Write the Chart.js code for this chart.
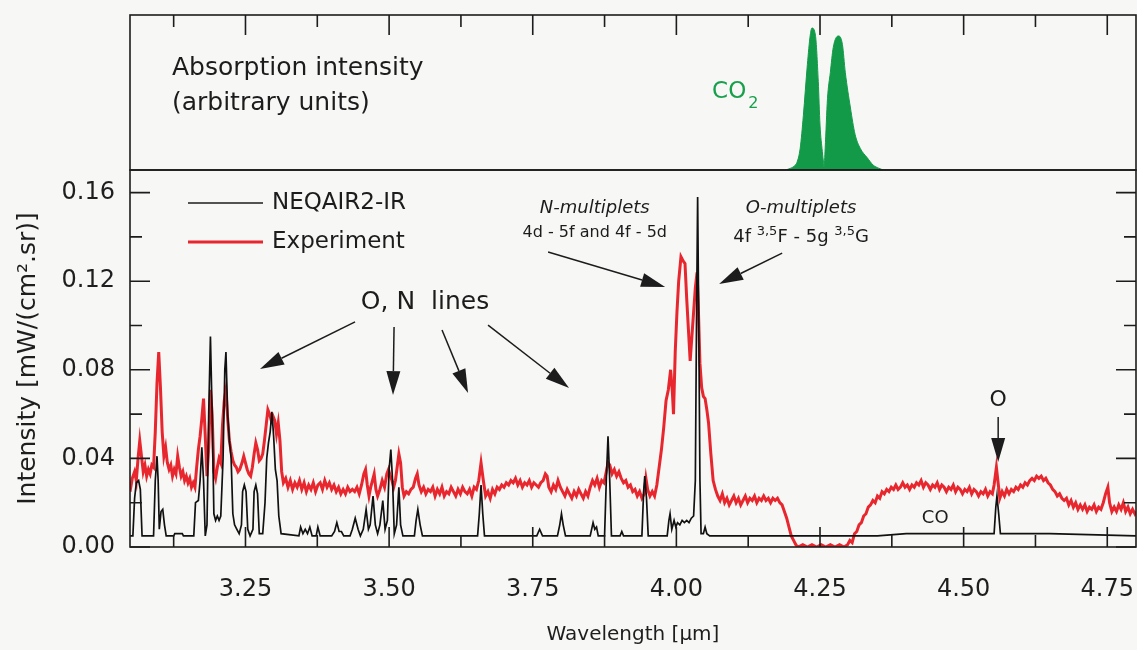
<!DOCTYPE html>
<html>
<head>
<meta charset="utf-8">
<script src="https://cdn.jsdelivr.net/npm/chart.js@4.4.0/dist/chart.umd.min.js"></script>
<style>
  html, body { margin: 0; padding: 0; background: #f7f7f6; }
  #wrap { position: relative; width: 1137px; height: 650px; overflow: hidden; }
  #topBox { position: absolute; left: 0; top: 0; width: 1137px; height: 172px; }
  #mainBox { position: absolute; left: 0; top: 169px; width: 1137px; height: 481px; }
</style>
</head>
<body>
<div id="wrap">
  <div id="topBox"><canvas id="topChart"></canvas></div>
  <div id="mainBox"><canvas id="mainChart"></canvas></div>
</div>
<script>
// axis ranges and ticks
const xMin = 3.049, xMax = 4.80;
const yMax = 0.1702;
const xMajor = [3.25, 3.5, 3.75, 4.0, 4.25, 4.5, 4.75];
const xMinor = [3.125, 3.375, 3.625, 3.875, 4.125, 4.375, 4.625];
const yMajor = [0, 0.04, 0.08, 0.12, 0.16];
const yMinor = [0.02, 0.06, 0.10, 0.14];

// CO2 absorption envelope (arbitrary units)
const co2Wl = [4.190, 4.198, 4.205, 4.210, 4.2155, 4.221, 4.228, 4.233, 4.236, 4.242, 4.247, 4.250, 4.254, 4.256, 4.257,
  4.259, 4.263, 4.268, 4.273, 4.282, 4.289, 4.294, 4.303, 4.311, 4.320, 4.332, 4.343, 4.352, 4.360];
const co2Abs = [0, 0.01, 0.025, 0.05, 0.14, 0.35, 0.68, 0.87, 0.916, 0.87, 0.57, 0.29, 0.12, 0.05, 0.02,
  0.14, 0.46, 0.63, 0.79, 0.865, 0.81, 0.63, 0.40, 0.23, 0.14, 0.08, 0.03, 0.012, 0];

// NEQAIR2-IR simulation [wavelength, intensity]
const neqair = [
  [3.049,0.005],[3.054,0.005],[3.057,0.022],[3.060,0.029],[3.064,0.030],[3.067,0.026],[3.070,0.005],
  [3.090,0.005],[3.093,0.030],[3.096,0.041],[3.098,0.030],[3.100,0.008],[3.103,0.016],[3.106,0.017],[3.109,0.010],[3.112,0.005],
  [3.125,0.005],[3.127,0.006],[3.140,0.006],[3.142,0.005],
  [3.160,0.005],[3.163,0.020],[3.168,0.021],[3.171,0.030],[3.174,0.045],[3.177,0.030],[3.180,0.005],[3.183,0.010],
  [3.186,0.060],[3.189,0.095],[3.192,0.060],[3.195,0.015],[3.198,0.012],[3.201,0.014],[3.204,0.012],[3.207,0.014],
  [3.211,0.040],[3.214,0.080],[3.216,0.088],[3.219,0.060],[3.222,0.048],[3.225,0.040],[3.228,0.015],[3.231,0.010],
  [3.235,0.008],[3.239,0.006],[3.243,0.010],[3.245,0.025],[3.248,0.028],[3.251,0.025],[3.254,0.008],[3.258,0.005],
  [3.263,0.008],[3.265,0.025],[3.268,0.028],[3.271,0.024],[3.274,0.006],[3.280,0.006],[3.284,0.020],[3.287,0.040],
  [3.290,0.047],[3.293,0.052],[3.296,0.061],[3.299,0.050],[3.302,0.035],[3.305,0.030],[3.308,0.014],[3.312,0.006],
  [3.343,0.005],[3.346,0.009],[3.350,0.006],[3.354,0.008],[3.358,0.006],[3.362,0.009],[3.366,0.005],
  [3.373,0.005],[3.376,0.009],[3.380,0.005],[3.400,0.005],[3.405,0.007],[3.409,0.011],[3.413,0.007],[3.417,0.007],[3.421,0.005],
  [3.432,0.005],[3.436,0.008],[3.441,0.013],[3.446,0.008],[3.450,0.005],[3.455,0.008],[3.460,0.017],[3.464,0.008],
  [3.467,0.010],[3.472,0.023],[3.476,0.010],[3.480,0.006],[3.484,0.010],[3.489,0.021],[3.493,0.008],[3.497,0.012],
  [3.500,0.035],[3.503,0.044],[3.506,0.030],[3.509,0.006],[3.513,0.010],[3.517,0.027],[3.520,0.010],[3.524,0.005],
  [3.544,0.005],[3.547,0.012],[3.550,0.017],[3.554,0.010],[3.558,0.005],
  [3.654,0.005],[3.657,0.015],[3.660,0.028],[3.663,0.015],[3.666,0.005],
  [3.757,0.005],[3.762,0.008],[3.767,0.005],[3.793,0.005],[3.797,0.010],[3.800,0.015],[3.803,0.010],[3.807,0.005],
  [3.850,0.005],[3.855,0.011],[3.858,0.008],[3.861,0.009],[3.864,0.005],
  [3.875,0.005],[3.878,0.030],[3.881,0.050],[3.884,0.030],[3.887,0.005],[3.902,0.005],[3.905,0.007],[3.908,0.005],
  [3.940,0.005],[3.943,0.025],[3.945,0.032],[3.948,0.022],[3.951,0.005],
  [3.984,0.005],[3.987,0.012],[3.989,0.015],[3.992,0.008],[3.996,0.012],[3.999,0.009],[4.002,0.011],[4.006,0.010],
  [4.010,0.012],[4.014,0.011],[4.018,0.012],[4.022,0.011],[4.026,0.013],[4.030,0.014],
  [4.033,0.030],[4.035,0.100],[4.037,0.158],[4.039,0.100],[4.041,0.030],[4.043,0.006],[4.047,0.006],[4.050,0.009],
  [4.053,0.006],[4.058,0.005],[4.350,0.005],[4.400,0.006],
  [4.553,0.006],[4.556,0.018],[4.558,0.023],[4.561,0.015],[4.564,0.006],[4.650,0.006],[4.800,0.005]
];

// measured spectrum [wavelength, intensity]
const experiment = [
  [3.049,0.025],[3.053,0.031],[3.057,0.034],[3.060,0.030],[3.063,0.040],[3.066,0.048],[3.069,0.041],[3.072,0.034],
  [3.075,0.037],[3.078,0.032],[3.081,0.035],[3.084,0.033],[3.087,0.037],[3.090,0.036],[3.093,0.052],[3.096,0.074],
  [3.099,0.088],[3.102,0.072],[3.105,0.052],[3.108,0.041],[3.111,0.045],[3.114,0.038],[3.117,0.035],[3.120,0.037],
  [3.123,0.032],[3.126,0.035],[3.129,0.033],[3.132,0.041],[3.135,0.036],[3.138,0.032],[3.141,0.034],[3.144,0.030],
  [3.147,0.032],[3.150,0.029],[3.153,0.031],[3.156,0.027],[3.159,0.029],[3.162,0.027],[3.165,0.036],[3.168,0.044],
  [3.171,0.050],[3.174,0.058],[3.177,0.067],[3.180,0.050],[3.183,0.032],[3.186,0.045],[3.189,0.071],[3.192,0.060],
  [3.195,0.034],[3.198,0.031],[3.201,0.036],[3.204,0.040],[3.207,0.038],[3.210,0.055],[3.213,0.066],[3.216,0.071],
  [3.219,0.058],[3.222,0.048],[3.225,0.043],[3.228,0.039],[3.231,0.037],[3.234,0.036],[3.237,0.034],[3.240,0.035],
  [3.244,0.038],[3.247,0.041],[3.250,0.038],[3.253,0.035],[3.256,0.033],[3.259,0.032],[3.262,0.036],[3.265,0.042],
  [3.268,0.047],[3.271,0.044],[3.274,0.039],[3.277,0.040],[3.280,0.042],[3.283,0.048],[3.286,0.055],[3.289,0.062],
  [3.292,0.060],[3.295,0.057],[3.298,0.059],[3.301,0.057],[3.304,0.051],[3.307,0.056],[3.310,0.048],[3.313,0.034],
  [3.316,0.029],[3.320,0.031],[3.324,0.027],[3.328,0.030],[3.332,0.026],[3.336,0.029],[3.340,0.027],[3.344,0.030],
  [3.348,0.026],[3.352,0.029],[3.356,0.025],[3.360,0.028],[3.364,0.026],[3.368,0.029],[3.372,0.025],[3.376,0.028],
  [3.380,0.029],[3.384,0.026],[3.388,0.030],[3.392,0.027],[3.396,0.029],[3.400,0.026],[3.404,0.028],[3.408,0.025],
  [3.412,0.027],[3.416,0.024],[3.420,0.026],[3.424,0.024],[3.428,0.027],[3.432,0.025],[3.436,0.026],[3.440,0.025],
  [3.444,0.027],[3.448,0.024],[3.452,0.028],[3.456,0.033],[3.459,0.035],[3.462,0.028],[3.465,0.023],[3.468,0.027],
  [3.471,0.030],[3.474,0.033],[3.477,0.026],[3.480,0.023],[3.484,0.026],[3.488,0.030],[3.492,0.027],[3.496,0.033],
  [3.499,0.035],[3.502,0.032],[3.505,0.030],[3.508,0.027],[3.511,0.030],[3.514,0.036],[3.517,0.042],[3.520,0.038],
  [3.523,0.027],[3.526,0.023],[3.530,0.025],[3.534,0.024],[3.538,0.026],[3.542,0.027],[3.546,0.031],[3.549,0.033],
  [3.552,0.028],[3.556,0.025],[3.560,0.027],[3.564,0.024],[3.568,0.026],[3.572,0.025],[3.576,0.027],[3.580,0.023],
  [3.584,0.026],[3.588,0.024],[3.592,0.027],[3.596,0.023],[3.600,0.025],[3.604,0.024],[3.608,0.027],[3.612,0.025],
  [3.616,0.023],[3.620,0.026],[3.624,0.024],[3.628,0.027],[3.632,0.025],[3.636,0.024],[3.640,0.026],[3.644,0.023],
  [3.648,0.027],[3.652,0.026],[3.656,0.030],[3.660,0.038],[3.664,0.030],[3.668,0.023],[3.672,0.025],[3.676,0.022],
  [3.680,0.026],[3.684,0.024],[3.688,0.027],[3.692,0.026],[3.696,0.028],[3.700,0.027],[3.704,0.029],[3.708,0.028],
  [3.712,0.030],[3.716,0.029],[3.720,0.031],[3.724,0.028],[3.728,0.030],[3.732,0.027],[3.736,0.029],[3.740,0.028],
  [3.744,0.030],[3.748,0.027],[3.752,0.029],[3.756,0.028],[3.760,0.027],[3.764,0.029],[3.768,0.030],[3.772,0.033],
  [3.775,0.032],[3.778,0.027],[3.782,0.025],[3.786,0.028],[3.790,0.026],[3.794,0.030],[3.798,0.027],[3.802,0.025],
  [3.806,0.023],[3.810,0.026],[3.814,0.024],[3.818,0.022],[3.822,0.025],[3.826,0.023],[3.830,0.026],[3.834,0.024],
  [3.838,0.022],[3.842,0.025],[3.846,0.023],[3.850,0.027],[3.854,0.030],[3.858,0.028],[3.862,0.031],[3.866,0.027],
  [3.870,0.030],[3.874,0.029],[3.878,0.034],[3.881,0.038],[3.884,0.037],[3.888,0.033],[3.892,0.035],[3.896,0.032],
  [3.900,0.034],[3.904,0.031],[3.908,0.029],[3.912,0.030],[3.916,0.027],[3.920,0.028],[3.924,0.025],[3.928,0.026],
  [3.932,0.023],[3.936,0.025],[3.940,0.022],[3.944,0.024],[3.947,0.031],[3.950,0.026],[3.954,0.023],[3.958,0.025],
  [3.962,0.023],[3.966,0.028],[3.970,0.036],[3.974,0.044],[3.978,0.054],[3.982,0.066],[3.986,0.071],[3.990,0.080],
  [3.993,0.070],[3.995,0.060],[3.998,0.088],[4.001,0.106],[4.004,0.120],[4.008,0.131],[4.012,0.129],[4.015,0.128],
  [4.018,0.112],[4.021,0.098],[4.024,0.084],[4.027,0.095],[4.030,0.106],[4.033,0.117],[4.036,0.124],[4.038,0.110],
  [4.041,0.083],[4.044,0.072],[4.047,0.068],[4.050,0.067],[4.053,0.062],[4.056,0.056],[4.060,0.042],[4.064,0.030],
  [4.068,0.026],[4.072,0.023],[4.076,0.021],[4.080,0.024],[4.084,0.020],[4.088,0.022],[4.092,0.019],[4.096,0.021],
  [4.100,0.023],[4.104,0.020],[4.108,0.022],[4.112,0.019],[4.116,0.021],[4.120,0.023],[4.124,0.020],[4.128,0.022],
  [4.132,0.021],[4.136,0.023],[4.140,0.020],[4.144,0.022],[4.148,0.021],[4.152,0.023],[4.156,0.021],[4.160,0.022],
  [4.164,0.020],[4.168,0.022],[4.172,0.021],[4.176,0.022],[4.180,0.020],[4.184,0.019],[4.188,0.016],[4.192,0.013],
  [4.196,0.009],[4.200,0.005],[4.204,0.003],[4.208,0.001],[4.212,0.000],[4.220,0.001],[4.228,0.000],[4.236,0.001],
  [4.244,0.000],[4.252,0.001],[4.260,0.000],[4.268,0.001],[4.276,0.000],[4.284,0.001],[4.292,0.000],[4.298,0.001],
  [4.302,0.003],[4.306,0.002],[4.310,0.006],[4.314,0.007],[4.318,0.010],[4.322,0.011],[4.326,0.014],[4.330,0.015],
  [4.334,0.018],[4.338,0.019],[4.342,0.021],[4.346,0.020],[4.350,0.023],[4.354,0.022],[4.358,0.025],[4.362,0.024],
  [4.366,0.026],[4.370,0.025],[4.374,0.027],[4.378,0.026],[4.382,0.028],[4.386,0.026],[4.390,0.027],[4.394,0.029],
  [4.398,0.027],[4.402,0.028],[4.406,0.026],[4.410,0.028],[4.414,0.027],[4.418,0.029],[4.422,0.028],[4.426,0.030],
  [4.430,0.027],[4.434,0.029],[4.438,0.028],[4.442,0.026],[4.446,0.028],[4.450,0.027],[4.454,0.029],[4.458,0.026],
  [4.462,0.028],[4.466,0.027],[4.470,0.025],[4.474,0.027],[4.478,0.026],[4.482,0.028],[4.486,0.025],[4.490,0.027],
  [4.494,0.026],[4.498,0.024],[4.502,0.026],[4.506,0.025],[4.510,0.027],[4.514,0.024],[4.518,0.026],[4.522,0.025],
  [4.526,0.023],[4.530,0.025],[4.534,0.024],[4.538,0.026],[4.542,0.023],[4.546,0.025],[4.550,0.024],[4.553,0.028],
  [4.557,0.036],[4.560,0.029],[4.563,0.022],[4.567,0.025],[4.571,0.023],[4.575,0.026],[4.579,0.024],[4.583,0.026],
  [4.587,0.025],[4.591,0.027],[4.595,0.026],[4.599,0.028],[4.603,0.027],[4.607,0.029],[4.611,0.028],[4.615,0.030],
  [4.619,0.031],[4.623,0.030],[4.627,0.032],[4.631,0.031],[4.635,0.032],[4.639,0.030],[4.643,0.031],[4.647,0.029],
  [4.651,0.028],[4.655,0.026],[4.659,0.025],[4.663,0.023],[4.667,0.024],[4.671,0.022],[4.675,0.021],[4.679,0.022],
  [4.683,0.019],[4.687,0.021],[4.691,0.018],[4.695,0.020],[4.699,0.017],[4.703,0.019],[4.707,0.017],[4.711,0.019],
  [4.715,0.016],[4.719,0.018],[4.723,0.017],[4.727,0.019],[4.731,0.016],[4.735,0.018],[4.739,0.017],[4.743,0.020],
  [4.747,0.024],[4.751,0.027],[4.754,0.020],[4.758,0.016],[4.762,0.018],[4.766,0.016],[4.770,0.019],[4.774,0.017],
  [4.778,0.020],[4.782,0.016],[4.786,0.018],[4.790,0.015],[4.794,0.017],[4.798,0.015],[4.800,0.016]
];

Chart.defaults.font.family = '"DejaVu Sans", sans-serif';
Chart.defaults.color = '#1e1e1e';

const INK = '#1c1c1c';
const FONT = '"DejaVu Sans", sans-serif';

function arrow(ctx, x1, y1, x2, y2) {
  const head = 24, half = 7;
  const ang = Math.atan2(y2 - y1, x2 - x1);
  const bx = x2 - head * Math.cos(ang), by = y2 - head * Math.sin(ang);
  ctx.beginPath();
  ctx.moveTo(x1, y1);
  ctx.lineTo(bx, by);
  ctx.stroke();
  ctx.beginPath();
  ctx.moveTo(x2, y2);
  ctx.lineTo(bx + half * Math.sin(ang), by - half * Math.cos(ang));
  ctx.lineTo(bx - half * Math.sin(ang), by + half * Math.cos(ang));
  ctx.closePath();
  ctx.fill();
}

// text made of pieces, some raised as superscripts, centred on cx
function richText(ctx, parts, cx, cy, size, style) {
  const big = (style || '') + ' ' + size + 'px ' + FONT;
  const small = (style || '') + ' ' + Math.round(size * 0.72) + 'px ' + FONT;
  let w = 0;
  parts.forEach(p => { ctx.font = p.sup ? small : big; w += ctx.measureText(p.t).width; });
  let x = cx - w / 2;
  ctx.textAlign = 'left';
  ctx.textBaseline = 'middle';
  parts.forEach(p => {
    ctx.font = p.sup ? small : big;
    ctx.fillText(p.t, x, p.sup ? cy - size * 0.3 : cy);
    x += ctx.measureText(p.t).width;
  });
}

// annotations in data units of the lower panel
const labelsMain = [
  {parts: [{t: 'O, N  lines'}], x: 3.5625, y: 0.1106, size: 25},
  {parts: [{t: 'N-multiplets'}], x: 3.858, y: 0.1531, size: 18, style: 'italic'},
  {parts: [{t: '4d - 5f and 4f - 5d'}], x: 3.858, y: 0.1418, size: 16},
  {parts: [{t: 'O-multiplets'}], x: 4.217, y: 0.1531, size: 18, style: 'italic'},
  {parts: [{t: '4f '}, {t: '3,5', sup: true}, {t: 'F - 5g '}, {t: '3,5', sup: true}, {t: 'G'}], x: 4.217, y: 0.1400, size: 18},
  {parts: [{t: 'O'}], x: 4.5601, y: 0.0664, size: 22},
  {parts: [{t: 'CO'}], x: 4.4505, y: 0.0131, size: 18}
];
const arrowsMain = [
  [3.4407, 0.1016, 3.2753, 0.0804],
  [3.5086, 0.0993, 3.5068, 0.0686],
  [3.5921, 0.0980, 3.6374, 0.0695],
  [3.6722, 0.1002, 3.8132, 0.0718],
  [3.7767, 0.1332, 3.9804, 0.1174],
  [4.1841, 0.1327, 4.0744, 0.1187],
  [4.5601, 0.0587, 4.5601, 0.0384]
];

const mainDecor = {
  id: 'mainDecor',
  afterDraw(chart) {
    const {ctx, chartArea: a, scales: {x, y}} = chart;
    ctx.save();
    ctx.strokeStyle = INK;
    ctx.fillStyle = INK;
    ctx.lineWidth = 1.6;
    ctx.strokeRect(a.left, a.top, a.right - a.left, a.bottom - a.top);
    ctx.beginPath();
    const tx = (vals, len) => vals.forEach(v => {
      const px = x.getPixelForValue(v);
      ctx.moveTo(px, a.bottom); ctx.lineTo(px, a.bottom - len);
    });
    const ty = (vals, len) => vals.forEach(v => {
      const py = y.getPixelForValue(v);
      ctx.moveTo(a.left, py); ctx.lineTo(a.left + len, py);
      ctx.moveTo(a.right, py); ctx.lineTo(a.right - len, py);
    });
    tx(xMajor, 20); tx(xMinor, 12);
    ty(yMajor, 20); ty(yMinor, 12);
    ctx.stroke();

    // legend
    ctx.lineWidth = 1.6;
    ctx.beginPath();
    ctx.moveTo(a.left + 58, a.top + 33); ctx.lineTo(a.left + 133, a.top + 33);
    ctx.stroke();
    ctx.strokeStyle = '#e8262e';
    ctx.lineWidth = 3;
    ctx.beginPath();
    ctx.moveTo(a.left + 58, a.top + 72); ctx.lineTo(a.left + 133, a.top + 72);
    ctx.stroke();
    ctx.font = '23px ' + FONT;
    ctx.textAlign = 'left';
    ctx.textBaseline = 'middle';
    ctx.fillText('NEQAIR2-IR', a.left + 142, a.top + 33);
    ctx.fillText('Experiment', a.left + 142, a.top + 72);

    // annotations
    labelsMain.forEach(l => richText(ctx, l.parts, x.getPixelForValue(l.x), y.getPixelForValue(l.y), l.size, l.style));
    ctx.strokeStyle = INK;
    ctx.lineWidth = 1.5;
    arrowsMain.forEach(r => arrow(ctx, x.getPixelForValue(r[0]), y.getPixelForValue(r[1]),
      x.getPixelForValue(r[2]), y.getPixelForValue(r[3])));
    ctx.restore();
  }
};

const topDecor = {
  id: 'topDecor',
  afterDraw(chart) {
    const {ctx, chartArea: a, scales: {x, y}} = chart;
    ctx.save();
    ctx.strokeStyle = INK;
    ctx.fillStyle = INK;
    ctx.lineWidth = 1.6;
    ctx.strokeRect(a.left, a.top, a.right - a.left, a.bottom - a.top);
    ctx.beginPath();
    const tx = (vals, len) => vals.forEach(v => {
      const px = x.getPixelForValue(v);
      ctx.moveTo(px, a.top); ctx.lineTo(px, a.top + len);
    });
    tx(xMajor, 20); tx(xMinor, 12);
    ctx.stroke();

    ctx.font = '25px ' + FONT;
    ctx.textAlign = 'left';
    ctx.textBaseline = 'middle';
    const lx = x.getPixelForValue(3.122);
    ctx.fillText('Absorption intensity', lx, y.getPixelForValue(0.658));
    ctx.fillText('(arbitrary units)', lx, y.getPixelForValue(0.432));

    ctx.fillStyle = '#17a04c';
    const cx = x.getPixelForValue(4.0622), cy = y.getPixelForValue(0.503);
    ctx.font = '23px ' + FONT;
    ctx.fillText('CO', cx, cy);
    const w = ctx.measureText('CO').width;
    ctx.font = '16px ' + FONT;
    ctx.fillText('2', cx + w + 2, cy + 12);
    ctx.restore();
  }
};

new Chart(document.getElementById('topChart'), {
  type: 'line',
  data: {
    datasets: [{
      label: 'CO2',
      data: co2Wl.map((w, i) => ({x: w, y: co2Abs[i]})),
      borderColor: '#139a48',
      backgroundColor: '#139a48',
      borderWidth: 1,
      pointRadius: 0,
      fill: 'origin',
      cubicInterpolationMode: 'monotone'
    }]
  },
  options: {
    responsive: true,
    maintainAspectRatio: false,
    animation: false,
    layout: {padding: {left: 130, right: 1, top: 15, bottom: 2}},
    plugins: {legend: {display: false}, tooltip: {enabled: false}},
    scales: {
      x: {type: 'linear', min: xMin, max: xMax, display: false},
      y: {min: 0, max: 1, display: false}
    }
  },
  plugins: [topDecor]
});

new Chart(document.getElementById('mainChart'), {
  type: 'line',
  data: {
    datasets: [
      {
        label: 'NEQAIR2-IR',
        data: neqair.map(p => ({x: p[0], y: p[1]})),
        borderColor: '#111111',
        borderWidth: 1.7,
        pointRadius: 0,
        tension: 0
      },
      {
        label: 'Experiment',
        data: experiment.map(p => ({x: p[0], y: p[1]})),
        borderColor: '#e8262e',
        borderWidth: 3,
        pointRadius: 0,
        tension: 0
      }
    ]
  },
  options: {
    responsive: true,
    maintainAspectRatio: false,
    animation: false,
    layout: {padding: {left: 0, right: 1, top: 1, bottom: 0}},
    plugins: {legend: {display: false}, tooltip: {enabled: false}},
    scales: {
      x: {
        type: 'linear', min: xMin, max: xMax,
        afterBuildTicks: s => { s.ticks = xMajor.map(v => ({value: v})); },
        afterFit: s => { s.height = 103; },
        // tick marks are drawn by the plugin; tickLength only spaces the labels
        grid: {display: false, drawTicks: true, tickLength: 28},
        border: {display: false},
        ticks: {padding: 0, font: {size: 24}, maxRotation: 0, autoSkip: false, callback: v => v.toFixed(2)},
        title: {display: true, text: 'Wavelength [µm]', font: {size: 20}, padding: {top: 0, bottom: 3}}
      },
      y: {
        min: 0, max: yMax,
        afterBuildTicks: s => { s.ticks = yMajor.map(v => ({value: v})); },
        afterFit: s => { s.width = 130; },
        grid: {display: false, drawTicks: true, tickLength: 15},
        border: {display: false},
        ticks: {padding: 0, font: {size: 24, lineHeight: 0.05}, callback: v => v.toFixed(2)},
        title: {display: true, text: 'Intensity [mW/(cm².sr)]', font: {size: 25}, padding: {top: 13, bottom: 0}}
      }
    }
  },
  plugins: [mainDecor]
});
</script>
</body>
</html>
